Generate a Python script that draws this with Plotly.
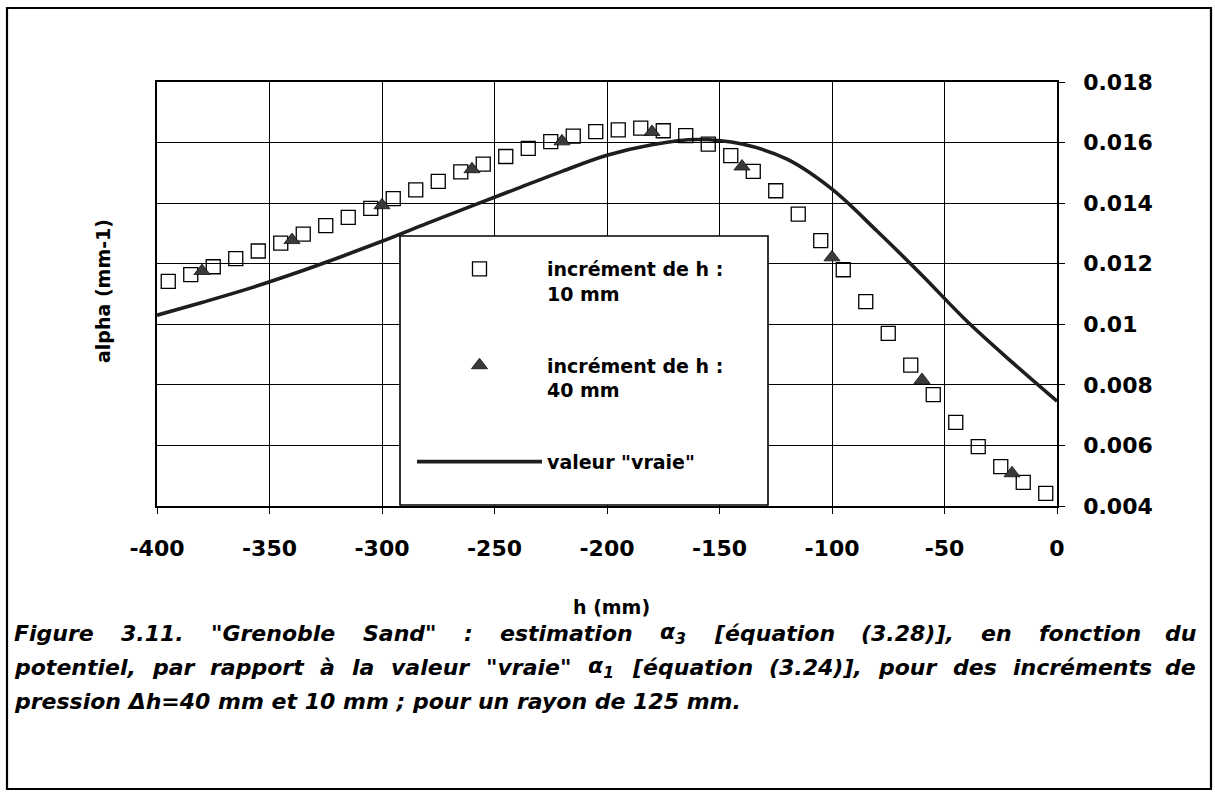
import plotly.graph_objects as go

# ---------------- data ----------------
h_10mm = [-395, -385, -375, -365, -355, -345, -335, -325, -315, -305,
          -295, -285, -275, -265, -255, -245, -235, -225, -215, -205,
          -195, -185, -175, -165, -155, -145, -135, -125, -115, -105,
          -95, -85, -75, -65, -55, -45, -35, -25, -15, -5]
alpha_10mm = [0.01142, 0.01164, 0.01190, 0.01217, 0.01242, 0.01268, 0.01298, 0.01326, 0.01353, 0.01383,
              0.01415, 0.01444, 0.01472, 0.01503, 0.01529, 0.01554, 0.01581, 0.01603, 0.01621, 0.01636,
              0.01642, 0.01648, 0.01639, 0.01623, 0.01595, 0.01557, 0.01505, 0.01441, 0.01364, 0.01276,
              0.01180, 0.01075, 0.00970, 0.00865, 0.00768, 0.00676, 0.00596, 0.00530, 0.00478, 0.00442]

h_40mm = [-380, -340, -300, -260, -220, -180, -140, -100, -60, -20]
alpha_40mm = [0.01176, 0.01278, 0.01393, 0.01512, 0.01604, 0.01635, 0.01521, 0.01221, 0.00816, 0.00508]

h_true = [-400, -380, -360, -340, -320, -300, -280, -260, -240, -220, -200,
          -180, -160, -140, -120, -100, -80, -60, -40, -20, 0]
alpha_true = [0.01030, 0.01072, 0.01116, 0.01165, 0.01218, 0.01274, 0.01333, 0.01391, 0.01448, 0.01505, 0.01558,
              0.01593, 0.01610, 0.01595, 0.01545, 0.01446, 0.01308, 0.01162, 0.01010, 0.00875, 0.00746]

x_tickvals = [-400, -350, -300, -250, -200, -150, -100, -50, 0]
x_ticktext = ["-400", "-350", "-300", "-250", "-200", "-150", "-100", "-50", "0"]
y_tickvals = [0.004, 0.006, 0.008, 0.010, 0.012, 0.014, 0.016, 0.018]
y_ticktext = ["0.004", "0.006", "0.008", "0.01", "0.012", "0.014", "0.016", "0.018"]

name_10 = "incrément de h :<br>10 mm"
name_40 = "incrément de h :<br>40 mm"
name_true = "valeur \"vraie\""
x_title = "h (mm)"
y_title = "alpha (mm-1)"

caption_line1 = ["Figure", "3.11.", "\"Grenoble", "Sand\"", ":", "estimation", "α<sub>3</sub>",
                 "[équation", "(3.28)],", "en", "fonction", "du"]
caption_line2 = ["potentiel,", "par", "rapport", "à", "la", "valeur", "\"vraie\"", "α<sub>1</sub>",
                 "[équation", "(3.24)],", "pour", "des", "incréments", "de"]
caption_line3 = "pression Δh=40 mm et 10 mm ; pour un rayon de 125 mm."

# ---------------- layout geometry (pixels) ----------------
W, H = 1215, 796
L, R, T, B = 157, 158, 82, 290
PW, PH = W - L - R, H - T - B


def px_x(x):
    return (x - L) / PW


def px_y(y):
    return (H - B - y) / PH


FONT = "DejaVu Sans"

fig = go.Figure()

fig.add_trace(go.Scatter(
    x=h_true, y=alpha_true, mode="lines", name=name_true, line_shape="spline",
    line=dict(color="#1e1e1e", width=3.6), legendgroup="c", legendrank=3))
fig.add_trace(go.Scatter(
    x=h_10mm, y=alpha_10mm, mode="markers", name=name_10,
    marker=dict(symbol="square-open", size=14, color="black", line=dict(width=1.3, color="black")),
    legendgroup="a", legendrank=1))
fig.add_trace(go.Scatter(
    x=h_40mm, y=alpha_40mm, mode="markers", name=name_40,
    marker=dict(symbol="triangle-up", size=14, color="#3a3a3a", line=dict(width=0.8, color="#111")),
    legendgroup="b", legendrank=2))

annotations = []
# axis titles
annotations.append(dict(text=y_title, x=px_x(103), y=px_y(291), xref="paper", yref="paper",
                        xanchor="center", yanchor="middle", textangle=-90, showarrow=False,
                        font=dict(family=FONT, size=19, color="black", weight="bold")))
annotations.append(dict(text=x_title, x=px_x(611), y=px_y(607), xref="paper", yref="paper",
                        xanchor="center", yanchor="middle", showarrow=False,
                        font=dict(family=FONT, size=19, color="black", weight="bold")))

cap_font = dict(family=FONT, size=22, color="black", weight="bold", style="italic")
# justified caption: word start positions (px)
line1_starts = [12, 119, 209, 361, 462, 498, 658, 712, 859, 979, 1037]
for word, sx in zip(caption_line1[:-1], line1_starts):
    annotations.append(dict(text=word, x=px_x(sx), y=px_y(633), xref="paper", yref="paper",
                            xanchor="left", yanchor="middle", showarrow=False, font=cap_font))
annotations.append(dict(text=caption_line1[-1], x=px_x(1198), y=px_y(633), xref="paper", yref="paper",
                        xanchor="right", yanchor="middle", showarrow=False, font=cap_font))
line2_starts = [12, 150, 208, 318, 350, 389, 484, 586, 630, 767, 876, 951, 1011]
for word, sx in zip(caption_line2[:-1], line2_starts):
    annotations.append(dict(text=word, x=px_x(sx), y=px_y(667), xref="paper", yref="paper",
                            xanchor="left", yanchor="middle", showarrow=False, font=cap_font))
annotations.append(dict(text=caption_line2[-1], x=px_x(1198), y=px_y(667), xref="paper", yref="paper",
                        xanchor="right", yanchor="middle", showarrow=False, font=cap_font))
annotations.append(dict(text=caption_line3, x=px_x(12), y=px_y(701), xref="paper", yref="paper",
                        xanchor="left", yanchor="middle", showarrow=False, font=cap_font))

shapes = [
    # legend box
    dict(type="rect", xref="paper", yref="paper", x0=px_x(400), x1=px_x(768), y0=px_y(505), y1=px_y(236),
         fillcolor="white", line=dict(color="black", width=1.6), layer="above"),
    # outer frame
    dict(type="rect", xref="paper", yref="paper", x0=px_x(7), x1=px_x(1211), y0=px_y(789), y1=px_y(8),
         fillcolor="rgba(0,0,0,0)", line=dict(color="black", width=2.2), layer="above"),
]

fig.update_layout(
    width=W, height=H,
    margin=dict(l=L, r=R, t=T, b=B),
    paper_bgcolor="white", plot_bgcolor="white",
    font=dict(family=FONT, color="black"),
    showlegend=True,
    legend=dict(x=px_x(412), y=px_y(250), xanchor="left", yanchor="top",
                bgcolor="rgba(0,0,0,0)", borderwidth=0,
                font=dict(family=FONT, size=19, color="black", weight="bold"),
                itemwidth=125, valign="top", tracegroupgap=44, traceorder="grouped"),
    annotations=annotations,
    shapes=shapes,
)

fig.update_xaxes(range=[-400, 0], tickvals=x_tickvals, ticktext=x_ticktext,
                 showgrid=True, gridcolor="black", gridwidth=1.4,
                 showline=True, linecolor="black", linewidth=1.6, mirror=True,
                 ticks="outside", ticklen=6, tickwidth=1.4, tickcolor="black",
                 ticklabelstandoff=16, zeroline=False,
                 tickfont=dict(family=FONT, size=22, color="black", weight="bold"))
fig.update_yaxes(range=[0.004, 0.018], tickvals=y_tickvals, ticktext=y_ticktext, side="right",
                 showgrid=True, gridcolor="black", gridwidth=1.4,
                 showline=True, linecolor="black", linewidth=1.6, mirror=True,
                 ticks="outside", ticklen=6, tickwidth=1.4, tickcolor="black",
                 ticklabelstandoff=14, zeroline=False,
                 tickfont=dict(family=FONT, size=22, color="black", weight="bold"))

fig.write_html("out.html", config={"displayModeBar": False},
               post_script="document.body.style.margin='0px';document.body.style.overflow='hidden';")
